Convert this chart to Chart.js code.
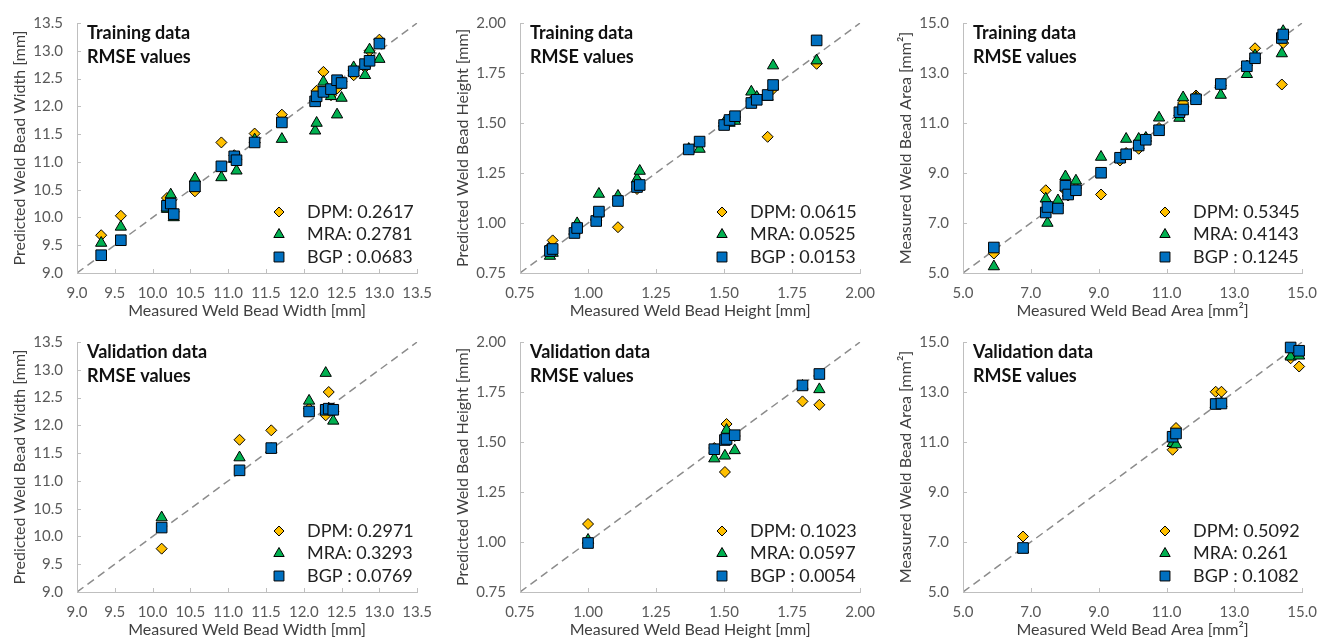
<!DOCTYPE html>
<html>
<head>
<meta charset="utf-8">
<script src="https://cdn.jsdelivr.net/npm/chart.js@4.4.0/dist/chart.umd.min.js"></script>
<style>
  body { margin: 0; background: #fff; width: 1328px; height: 638px; overflow: hidden; position: relative; }
  .panel { position: absolute; height: 319px; }
</style>
</head>
<body>
<div class="panel" style="left:0;top:0;width:443px"><canvas id="c0" width="443" height="319"></canvas></div>
<div class="panel" style="left:443px;top:0;width:443px"><canvas id="c1" width="443" height="319"></canvas></div>
<div class="panel" style="left:886px;top:0;width:442px"><canvas id="c2" width="442" height="319"></canvas></div>
<div class="panel" style="left:0;top:319px;width:443px"><canvas id="c3" width="443" height="319"></canvas></div>
<div class="panel" style="left:443px;top:319px;width:443px"><canvas id="c4" width="443" height="319"></canvas></div>
<div class="panel" style="left:886px;top:319px;width:442px"><canvas id="c5" width="442" height="319"></canvas></div>
<script>
// models
const modelLabels = ['DPM: ', 'MRA: ', 'BGP : ']

// axis ranges
const widthRange = [9.0, 13.5]
const heightRange = [0.75, 2.00]
const areaRange = [5.0, 15.0]

// training - bead width
const widthTrainMeasured = [9.32, 9.58, 10.19, 10.24, 10.28, 10.56, 10.91, 11.08, 11.11, 11.35, 11.71, 12.15, 12.17, 12.26, 12.36, 12.44, 12.5, 12.66, 12.81, 12.87, 13.0]
const widthTrainDPM = [9.68, 10.03, 10.35, 10.3, 10.1, 10.47, 11.35, 11.12, 11.05, 11.51, 11.85, 12.1, 12.28, 12.62, 12.2, 12.32, 12.45, 12.56, 12.7, 13.0, 13.2]
const widthTrainMRA = [9.54, 9.83, 10.15, 10.41, 10.0, 10.7, 10.72, 11.05, 10.84, 11.4, 11.41, 11.56, 11.7, 12.44, 12.18, 11.85, 12.15, 12.7, 12.56, 13.02, 12.85]
const widthTrainBGP = [9.32, 9.59, 10.21, 10.25, 10.06, 10.56, 10.92, 11.1, 11.03, 11.35, 11.71, 12.09, 12.18, 12.26, 12.31, 12.47, 12.42, 12.63, 12.76, 12.82, 13.13]
const widthTrainRmse = [0.2617, 0.2781, 0.0683]

// training - bead height
const heightTrainMeasured = [0.86, 0.87, 0.95, 0.96, 1.03, 1.04, 1.11, 1.18, 1.19, 1.37, 1.41, 1.50, 1.52, 1.54, 1.60, 1.62, 1.66, 1.68, 1.84]
const heightTrainDPM = [0.88, 0.913, 0.96, 0.99, 1.02, 1.04, 0.979, 1.17, 1.2, 1.37, 1.4, 1.5, 1.52, 1.53, 1.61, 1.63, 1.431, 1.67, 1.796]
const heightTrainMRA = [0.835, 0.85, 0.96, 0.998, 1.03, 1.145, 1.135, 1.22, 1.26, 1.37, 1.37, 1.5, 1.5, 1.51, 1.656, 1.63, 1.63, 1.787, 1.812]
const heightTrainBGP = [0.86, 0.87, 0.95, 0.975, 1.01, 1.057, 1.11, 1.18, 1.19, 1.368, 1.407, 1.49, 1.515, 1.534, 1.60, 1.616, 1.64, 1.69, 1.913]
const heightTrainRmse = [0.0615, 0.0525, 0.0153]

// training - bead area
const areaTrainMeasured = [5.91, 7.44, 7.49, 7.8, 8.02, 8.1, 8.33, 9.07, 9.63, 9.81, 10.18, 10.39, 10.78, 11.38, 11.49, 11.87, 12.6, 13.37, 13.61, 14.4, 14.44]
const areaTrainDPM = [5.78, 8.31, 7.6, 7.7, 8.3, 8.1, 8.4, 8.14, 9.5, 9.8, 9.97, 10.4, 10.8, 11.3, 11.8, 12.1, 12.5, 13.3, 13.99, 12.54, 14.2]
const areaTrainMRA = [5.26, 7.97, 7.0, 7.9, 8.86, 8.2, 8.69, 9.64, 9.55, 10.36, 10.36, 10.4, 11.21, 11.2, 12.02, 12.0, 12.12, 12.95, 13.7, 13.78, 14.67]
const areaTrainBGP = [6.02, 7.42, 7.64, 7.58, 8.49, 8.14, 8.31, 9.01, 9.61, 9.75, 10.1, 10.33, 10.71, 11.43, 11.54, 11.95, 12.56, 13.27, 13.59, 14.4, 14.54]
const areaTrainRmse = [0.5345, 0.4143, 0.1245]

// validation - bead width
const widthValMeasured = [10.12, 11.15, 11.57, 12.07, 12.29, 12.33, 12.39]
const widthValDPM = [9.78, 11.74, 11.91, 12.3, 12.18, 12.6, 12.25]
const widthValMRA = [10.34, 11.42, 11.57, 12.44, 12.94, 12.3, 12.08]
const widthValBGP = [10.16, 11.19, 11.59, 12.25, 12.28, 12.3, 12.28]
const widthValRmse = [0.2971, 0.3293, 0.0769]

// validation - bead height
const heightValMeasured = [1.0, 1.464, 1.503, 1.509, 1.539, 1.788, 1.85]
const heightValDPM = [1.09, 1.47, 1.35, 1.59, 1.53, 1.703, 1.686]
const heightValMRA = [1.01, 1.417, 1.431, 1.56, 1.458, 1.78, 1.763]
const heightValBGP = [0.995, 1.464, 1.51, 1.515, 1.534, 1.783, 1.84]
const heightValRmse = [0.1023, 0.0597, 0.0054]

// validation - bead area
const areaValMeasured = [6.77, 11.18, 11.28, 12.45, 12.62, 14.66, 14.91]
const areaValDPM = [7.22, 10.69, 11.56, 13.01, 13.01, 14.35, 14.02]
const areaValMRA = [6.7, 10.95, 10.9, 12.5, 12.55, 14.41, 14.45]
const areaValBGP = [6.76, 11.21, 11.34, 12.52, 12.54, 14.78, 14.65]
const areaValRmse = [0.5092, 0.261, 0.1082]


const FONT = 'Lato, "Open Sans", sans-serif'
const markers = [
  { style: 'rectRot', radius: 5.5, color: '#FFC000' },
  { style: 'triangle', radius: 6.5, color: '#00B050' },
  { style: 'rect', radius: 7.5, color: '#0070C0' }
]

function pairs(xs, ys) {
  return xs.map((x, i) => ({ x: x, y: ys[i] }))
}

//Inner tick marks, heading and legend
const decor = {
  id: 'decor',
  afterDatasetsDraw(chart, args, opts) {
    const { ctx, chartArea, scales } = chart
    ctx.save()
    ctx.strokeStyle = '#bfbfbf'
    ctx.lineWidth = 1
    scales.x.ticks.forEach(t => {
      const px = Math.round(scales.x.getPixelForValue(t.value)) + 0.5
      ctx.beginPath()
      ctx.moveTo(px, chartArea.bottom)
      ctx.lineTo(px, chartArea.bottom - 4)
      ctx.stroke()
    })
    scales.y.ticks.forEach(t => {
      const py = Math.round(scales.y.getPixelForValue(t.value)) + 0.5
      ctx.beginPath()
      ctx.moveTo(chartArea.left, py)
      ctx.lineTo(chartArea.left + 4, py)
      ctx.stroke()
    })

    ctx.fillStyle = '#111'
    ctx.font = 'bold 18px ' + FONT
    ctx.textAlign = 'left'
    ctx.textBaseline = 'middle'
    ctx.fillText(opts.heading, chartArea.left + 10, 33)
    ctx.fillText('RMSE values', chartArea.left + 10, 57)

    ctx.font = '18px ' + FONT
    opts.rmse.forEach((v, i) => {
      const y = 212 + i * 22.5
      const m = markers[i]
      ctx.fillStyle = m.color
      ctx.strokeStyle = '#000'
      ctx.lineWidth = 1
      Chart.helpers.drawPoint(ctx, { pointStyle: m.style, radius: m.radius - 0.5, borderWidth: 1, rotation: 0 }, 279, y)
      ctx.fillStyle = '#222'
      ctx.fillText(modelLabels[i] + v, 307, y)
    })
    ctx.restore()
  }
}

function drawPanel(id, opts) {
  const ctx = document.getElementById(id).getContext('2d')
  const range = opts.range
  const datasets = [opts.dpm, opts.mra, opts.bgp].map((ys, i) => ({
    type: 'scatter',
    data: pairs(opts.measured, ys),
    pointStyle: markers[i].style,
    pointRadius: markers[i].radius,
    pointBackgroundColor: markers[i].color,
    pointBorderColor: '#000',
    pointBorderWidth: 1,
    clip: false,
    order: 3 - i
  }))
  datasets.push({
    type: 'line',
    data: [{ x: range[0], y: range[0] }, { x: range[1], y: range[1] }],
    borderColor: '#8c8c8c',
    borderWidth: 1.5,
    borderDash: [8, 5],
    pointRadius: 0,
    order: 10
  })

  const axisTitle = (text, pad) => ({ display: true, text: text, color: '#404040', font: { family: FONT, size: 16, lineHeight: 1 }, padding: pad })
  const tickFont = { family: FONT, size: 15 }

  new Chart(ctx, {
    type: 'scatter',
    data: { datasets: datasets },
    options: {
      responsive: false,
      animation: false,
      events: [],
      layout: { padding: { top: 18, right: opts.padRight, left: 0, bottom: 0 } },
      plugins: {
        legend: { display: false },
        tooltip: { enabled: false },
        decor: { heading: opts.heading, rmse: opts.rmse }
      },
      scales: {
        x: {
          type: 'linear',
          min: range[0],
          max: range[1],
          afterFit: s => { s.height = 46 },
          grid: { drawOnChartArea: false, drawTicks: false },
          border: { color: '#bfbfbf', width: 1 },
          ticks: { stepSize: opts.step, color: '#595959', font: tickFont, padding: 11, maxRotation: 0,
            callback: v => v.toFixed(opts.dec) },
          title: axisTitle(opts.xTitle, { top: 0, bottom: 0 })
        },
        y: {
          type: 'linear',
          min: range[0],
          max: range[1],
          afterFit: s => { s.width = 77 },
          grid: { drawOnChartArea: false, drawTicks: false },
          border: { color: '#bfbfbf', width: 1 },
          ticks: { stepSize: opts.step, color: '#595959', font: tickFont, padding: 14,
            callback: v => v.toFixed(opts.dec) },
          title: axisTitle(opts.yTitle, { top: 12, bottom: 0 })
        }
      }
    },
    plugins: [decor]
  })
}

drawPanel('c0', { heading: 'Training data', measured: widthTrainMeasured, dpm: widthTrainDPM, mra: widthTrainMRA, bgp: widthTrainBGP, rmse: widthTrainRmse,
  range: widthRange, step: 0.5, dec: 1, padRight: 19, xTitle: 'Measured Weld Bead Width [mm]', yTitle: 'Predicted Weld Bead Width [mm]' })
drawPanel('c1', { heading: 'Training data', measured: heightTrainMeasured, dpm: heightTrainDPM, mra: heightTrainMRA, bgp: heightTrainBGP, rmse: heightTrainRmse,
  range: heightRange, step: 0.25, dec: 2, padRight: 18, xTitle: 'Measured Weld Bead Height [mm]', yTitle: 'Predicted Weld Bead Height [mm]' })
drawPanel('c2', { heading: 'Training data', measured: areaTrainMeasured, dpm: areaTrainDPM, mra: areaTrainMRA, bgp: areaTrainBGP, rmse: areaTrainRmse,
  range: areaRange, step: 2, dec: 1, padRight: 16, xTitle: 'Measured Weld Bead Area [mm²]', yTitle: 'Measured Weld Bead Area [mm²]' })
drawPanel('c3', { heading: 'Validation data', measured: widthValMeasured, dpm: widthValDPM, mra: widthValMRA, bgp: widthValBGP, rmse: widthValRmse,
  range: widthRange, step: 0.5, dec: 1, padRight: 19, xTitle: 'Measured Weld Bead Width [mm]', yTitle: 'Predicted Weld Bead Width [mm]' })
drawPanel('c4', { heading: 'Validation data', measured: heightValMeasured, dpm: heightValDPM, mra: heightValMRA, bgp: heightValBGP, rmse: heightValRmse,
  range: heightRange, step: 0.25, dec: 2, padRight: 18, xTitle: 'Measured Weld Bead Height [mm]', yTitle: 'Predicted Weld Bead Height [mm]' })
drawPanel('c5', { heading: 'Validation data', measured: areaValMeasured, dpm: areaValDPM, mra: areaValMRA, bgp: areaValBGP, rmse: areaValRmse,
  range: areaRange, step: 2, dec: 1, padRight: 16, xTitle: 'Measured Weld Bead Area [mm²]', yTitle: 'Measured Weld Bead Area [mm²]' })
</script>
</body>
</html>
